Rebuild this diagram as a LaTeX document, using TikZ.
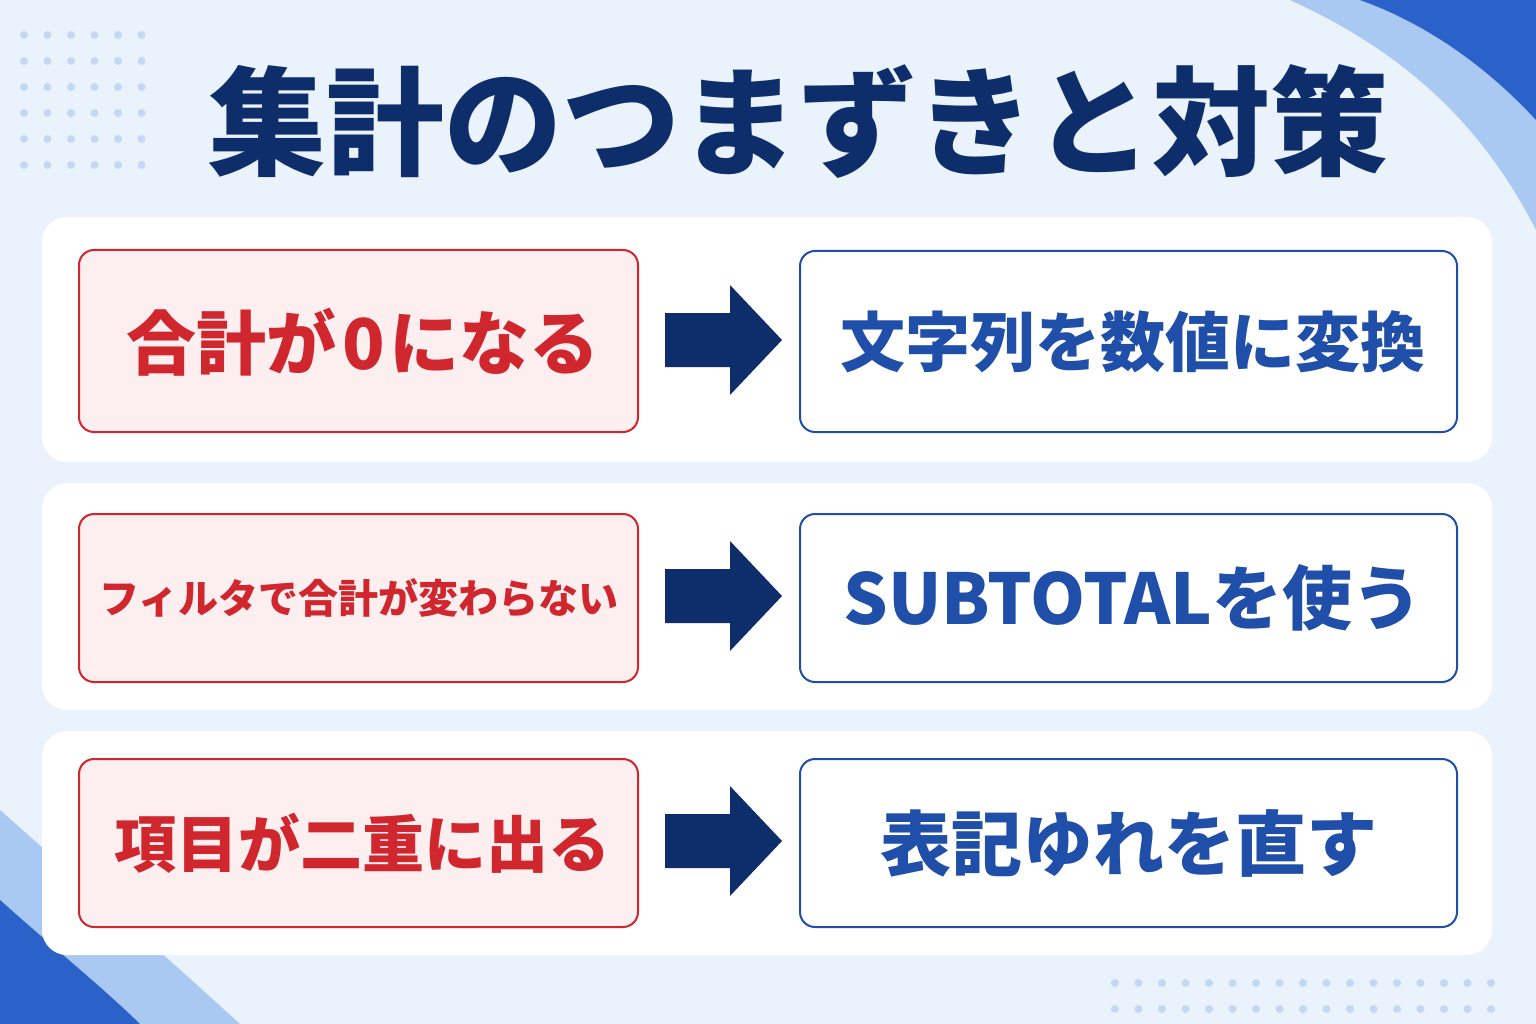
\documentclass[tikz,border=0pt]{standalone}
\usepackage{fontspec}
\setmainfont{Noto Sans CJK JP}
\definecolor{bg}{HTML}{EAF2FC}
\definecolor{navy}{HTML}{0D2D6B}
\definecolor{rd}{HTML}{D0262E}
\definecolor{rfill}{HTML}{FDEEF0}
\definecolor{bl}{HTML}{1F4FA8}
\definecolor{lb}{HTML}{A9C8F2}
\definecolor{mb}{HTML}{2A62C9}
\definecolor{dot}{HTML}{C3D8F3}
\begin{document}
\begin{tikzpicture}[x=1pt,y=-1pt,
 panel/.style={fill=white,rounded corners=25pt,draw=none},
 prob/.style={fill=rfill,draw=rd,line width=2pt,rounded corners=15pt},
 sol/.style={fill=white,draw=bl,line width=2pt,rounded corners=15pt},
 ptxt/.style={text=rd,font=\bfseries\fontsize{62}{70}\selectfont},
 stxt/.style={text=bl,font=\bfseries\fontsize{62}{70}\selectfont}]
\useasboundingbox (0,0) rectangle (1536,1024);
\fill[bg] (0,0) rectangle (1536,1024);
% top-right decoration
\fill[lb] (1290,0) -- (1536,0) -- (1536,230) .. controls (1480,120) and (1400,50) .. (1290,0);
\fill[mb] (1360,0) -- (1536,0) -- (1536,120) .. controls (1490,70) and (1430,25) .. (1360,0);
% bottom-left decoration
\fill[lb] (0,810) .. controls (90,890) and (170,960) .. (240,1024) -- (0,1024) -- cycle;
\fill[mb] (0,900) .. controls (50,945) and (100,985) .. (140,1024) -- (0,1024) -- cycle;
% dots
\foreach \i in {0,...,5} \foreach \j in {0,...,5} \fill[dot] (24+\i*23.5,35+\j*26) circle (4pt);
\foreach \i in {0,...,16} \foreach \j in {0,1} \fill[dot] (1115+\i*23.5,983+\j*26) circle (4pt);
% title
\node[text=navy,font=\bfseries\fontsize{118}{125}\selectfont] (title) at (798,122) {集計のつまずきと対策};
% panels
\draw[panel] (42,217) rectangle (1492,462);
\draw[panel] (42,483) rectangle (1492,710);
\draw[panel] (42,731) rectangle (1492,955);
% boxes
\draw[prob] (79,250) rectangle (638,432);
\draw[prob] (79,514) rectangle (638,682);
\draw[prob] (79,759) rectangle (638,927);
\draw[sol] (800,251) rectangle (1457,432);
\draw[sol] (800,514) rectangle (1457,682);
\draw[sol] (800,759) rectangle (1457,927);
\node[ptxt,font=\bfseries\fontsize{70}{76}\selectfont] (p1) at (363,342) {合計が\hspace{6pt}0\hspace{4pt}になる};
\node[ptxt,font=\bfseries\fontsize{40}{46}\selectfont] (p2) at (359,598) {フィルタで合計が変わらない};
\node[ptxt] (p3) at (362,843) {項目が二重に出る};
\node[stxt,font=\bfseries\fontsize{65}{70}\selectfont] (s1) at (1133,342) {文字列を数値に変換};
\node[stxt,font=\bfseries\fontsize{70}{76}\selectfont] (s2) at (1133,598) {SUBTOTALを使う};
\node[stxt,font=\bfseries\fontsize{71}{76}\selectfont] (s3) at (1129,843) {表記ゆれを直す};
% arrows
\foreach \y in {340,596,841}
  \fill[navy] (665,\y-27) -- (730,\y-27) -- (730,\y-55) -- (782,\y) -- (730,\y+55) -- (730,\y+27) -- (665,\y+27) -- cycle;
\end{tikzpicture}
\end{document}
